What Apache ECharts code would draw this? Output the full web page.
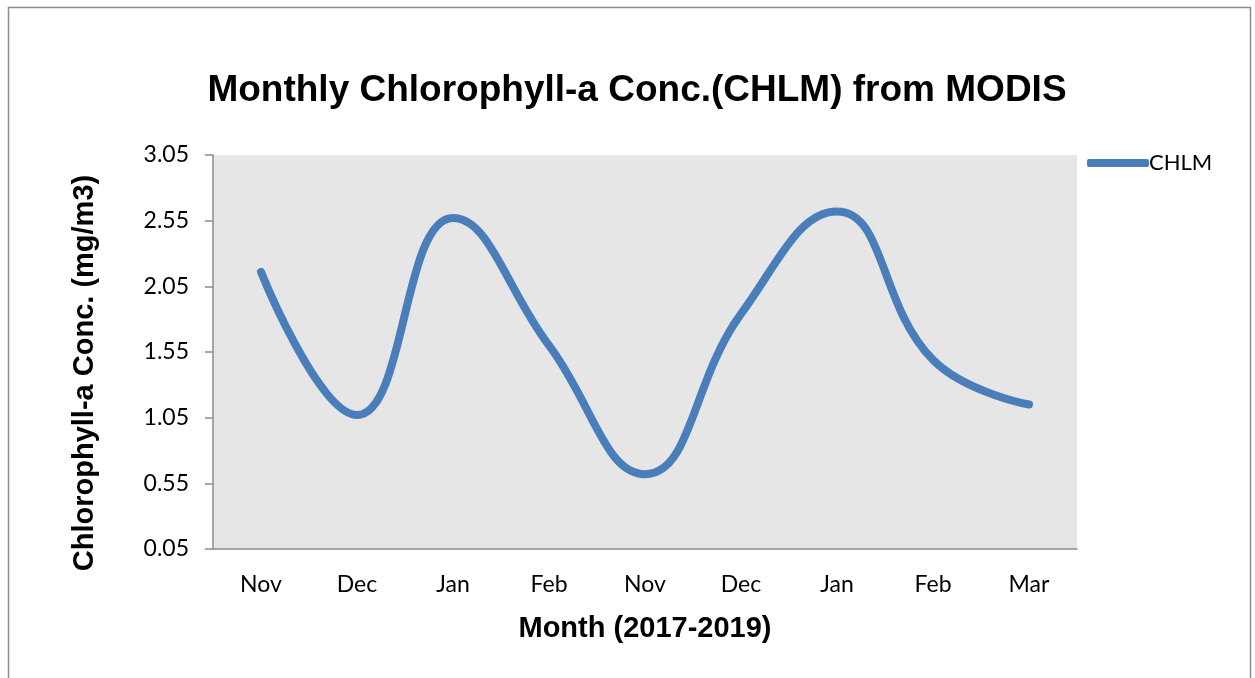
<!DOCTYPE html>
<html>
<head>
<meta charset="utf-8">
<script src="https://cdn.jsdelivr.net/npm/echarts@6/dist/echarts.min.js"></script>
<title>CHLM</title>
</head>
<body style="margin:0">
<div id="container" style="width:1255px;height:678px"></div>
<script type="text/javascript">
let months = ['Nov', 'Dec', 'Jan', 'Feb', 'Nov', 'Dec', 'Jan', 'Feb', 'Mar'];
let chlm = [2.16, 1.07, 2.57, 1.60, 0.62, 1.84, 2.62, 1.49, 1.15];
let yTicks = { min: 0.05, max: 3.05, step: 0.5 };

let chart = echarts.init(document.getElementById('container'));
chart.setOption({
    animation: false,
    title: {
        text: 'Monthly Chlorophyll-a Conc.(CHLM) from MODIS',
        left: 632, top: 67, textAlign: 'center',
        textStyle: { fontFamily: 'Liberation Sans', fontWeight: 'bold', fontSize: 37, color: '#000' }
    },
    legend: {
        data: ['CHLM'],
        left: 1082, top: 147,
        icon: 'roundRect',
        itemWidth: 62, itemHeight: 8, itemGap: 0,
        textStyle: { fontFamily: 'Lato', fontSize: 22, color: '#000', padding: [0, 0, 0, -5] }
    },
    graphic: [{
        type: 'rect',
        shape: { x: 8.5, y: 7.5, width: 1242, height: 700 },
        style: { fill: 'none', stroke: '#8c8c8c', lineWidth: 1.5 },
        silent: true
    }],
    grid: {
        left: 213, top: 155, right: 178, bottom: 129,
        show: true, backgroundColor: '#e6e6e6', borderWidth: 0
    },
    xAxis: {
        type: 'category',
        data: months,
        name: 'Month (2017-2019)',
        nameLocation: 'middle', nameGap: 65,
        nameTextStyle: { fontFamily: 'Liberation Sans', fontWeight: 'bold', fontSize: 29, color: '#000' },
        axisLine: { lineStyle: { color: '#8c8c8c', width: 1.5 } },
        axisTick: { show: false },
        axisLabel: { fontFamily: 'Lato', fontSize: 23, color: '#000', margin: 24 }
    },
    yAxis: {
        type: 'value',
        min: yTicks.min, max: yTicks.max, interval: yTicks.step,
        name: 'Chlorophyll-a Conc. (mg/m3)',
        nameLocation: 'middle', nameGap: 114,
        nameTextStyle: { fontFamily: 'Liberation Sans', fontWeight: 'bold', fontSize: 29, color: '#000', padding: [0, 42, 0, 0] },
        axisLine: { show: true, lineStyle: { color: '#8c8c8c', width: 1.5 } },
        axisTick: { show: true, length: 8, lineStyle: { color: '#8c8c8c', width: 1.5 } },
        splitLine: { show: false },
        axisLabel: {
            fontFamily: 'Lato', fontSize: 23, color: '#000', margin: 24,
            formatter: v => v.toFixed(2)
        }
    },
    series: [{
        name: 'CHLM',
        type: 'line',
        data: chlm,
        smooth: 0.45,
        showSymbol: false,
        lineStyle: { color: '#4a7ebb', width: 8, cap: 'round' },
        itemStyle: { color: '#4a7ebb' }
    }]
});
</script>
</body>
</html>
